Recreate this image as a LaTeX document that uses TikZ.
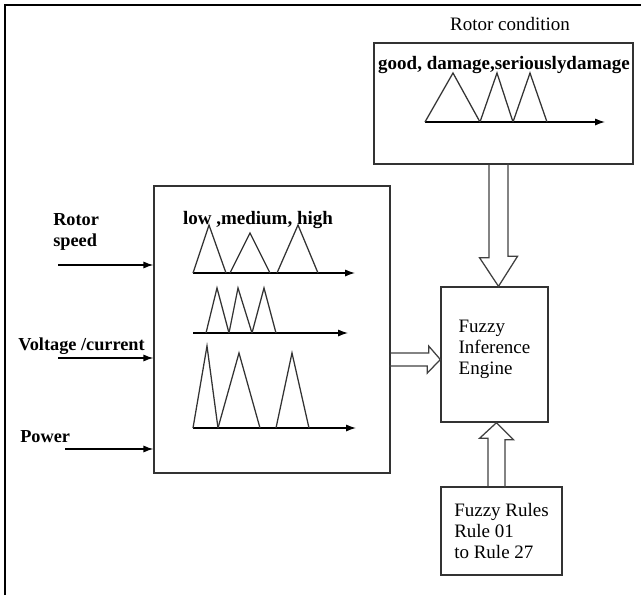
\documentclass[tikz,border=0pt]{standalone}
\usepackage{fontspec}
\setmainfont{Liberation Serif}
\usetikzlibrary{arrows.meta,calc}

\begin{document}
\begin{tikzpicture}[
    x=0.025cm, y=-0.025cm,
    font=\fontsize{13.5}{15}\selectfont,
    box/.style={draw=black!80, line width=0.9pt, inner sep=0pt, align=left},
    inarrow/.style={-{Latex[length=7pt,width=5pt]}, line width=0.9pt},
    axis/.style={-{Latex[length=7pt,width=5pt]}, line width=0.9pt},
    mf/.style={draw=black!80, line width=0.9pt},
    hollow/.style={draw=black!75, line width=0.9pt, line join=miter},
    tag/.style={font=\fontsize{13}{15}\selectfont\bfseries, inner sep=0pt},
    setlabel/.style={font=\fontsize{13.5}{15}\selectfont\bfseries, inner sep=0pt}
]

\useasboundingbox (0,0) rectangle (641,595);

% outer frame
\draw[line width=1.5pt] (5,595) -- (5,5) -- (641,5);

\node[box, minimum width=6.475cm, minimum height=3.025cm] (cond) at (503.5,103.5) {};
\node[box, minimum width=5.9cm, minimum height=7.175cm] (main) at (272,329.5) {};
\node[box, minimum width=2.675cm, minimum height=3.375cm, text depth=0.35cm] (engine) at (494.5,354.5) {Fuzzy\\Inference\\Engine};
\node[box, minimum width=3.025cm, minimum height=2.2cm] (rules) at (501.5,531) {Fuzzy Rules\\Rule 01\\to Rule 27};

\node (condtitle) at (510,24) {Rotor condition};
\node[setlabel] (condsets) at (504,65) {good, damage,seriouslydamage};
\node[setlabel] (mainsets) at (258,220) {low ,medium, high};

% inputs
\node[tag, anchor=west, align=left] (speed) at (53,232) {Rotor\\speed};
\node[tag, anchor=west] (volt) at (18,346) {Voltage /current};
\node[tag, anchor=west] (power) at (20,437) {Power};

\coordinate (speedin) at (58,265);
\coordinate (voltin) at (58,358);
\coordinate (powerin) at (65,449);
\draw[inarrow] (speedin) -- (speedin -| main.west);
\draw[inarrow] (voltin) -- (voltin -| main.west);
\draw[inarrow] (powerin) -- (powerin -| main.west);

% membership functions of the rotor condition
\draw[axis] (425,122) -- (605,122);
\foreach \a/\b/\c in {425/453/480, 480/497/513, 513/530/547}
    \draw[mf] (\a,122) -- (\b,73) -- (\c,122);

% membership functions of the inputs
\draw[axis] (193,273) -- (355,273);
\foreach \a/\b/\c/\h in {193/209/226/225, 230/250/270/233, 277/298/318/225}
    \draw[mf] (\a,273) -- (\b,\h) -- (\c,273);

\draw[axis] (193,333) -- (348,333);
\foreach \a/\b/\c in {206/217/229, 229/238/252, 252/264/276}
    \draw[mf] (\a,333) -- (\b,288) -- (\c,333);

\draw[axis] (193,428) -- (356,428);
\foreach \a/\b/\c/\h in {193/207/218/346, 218/239/260/353, 276/292/309/353}
    \draw[mf] (\a,428) -- (\b,\h) -- (\c,428);

% hollow arrows into the engine
\draw[hollow] ($(cond.south)+(-14.5,0)$) -- ++(0,93) -- ++(-9.5,0)
    -- ($(engine.north)+(4,0)$) -- ++(19,-30) -- ++(-9.5,0) -- ++(0,-93);
\draw[hollow] ($(main.east)+(0,23.5)$) -- ++(38,0) -- ++(0,-7)
    -- ($(engine.west)+(0,5)$) -- ++(-13,13.5) -- ++(0,-7) -- ++(-38,0);
\draw[hollow] ($(rules.north)+(-13.5,0)$) -- ++(0,-48) -- ++(-8.5,0)
    -- ($(engine.south)+(2,0)$) -- ++(17,17) -- ++(-8.5,0) -- ++(0,48);

\end{tikzpicture}
\end{document}
